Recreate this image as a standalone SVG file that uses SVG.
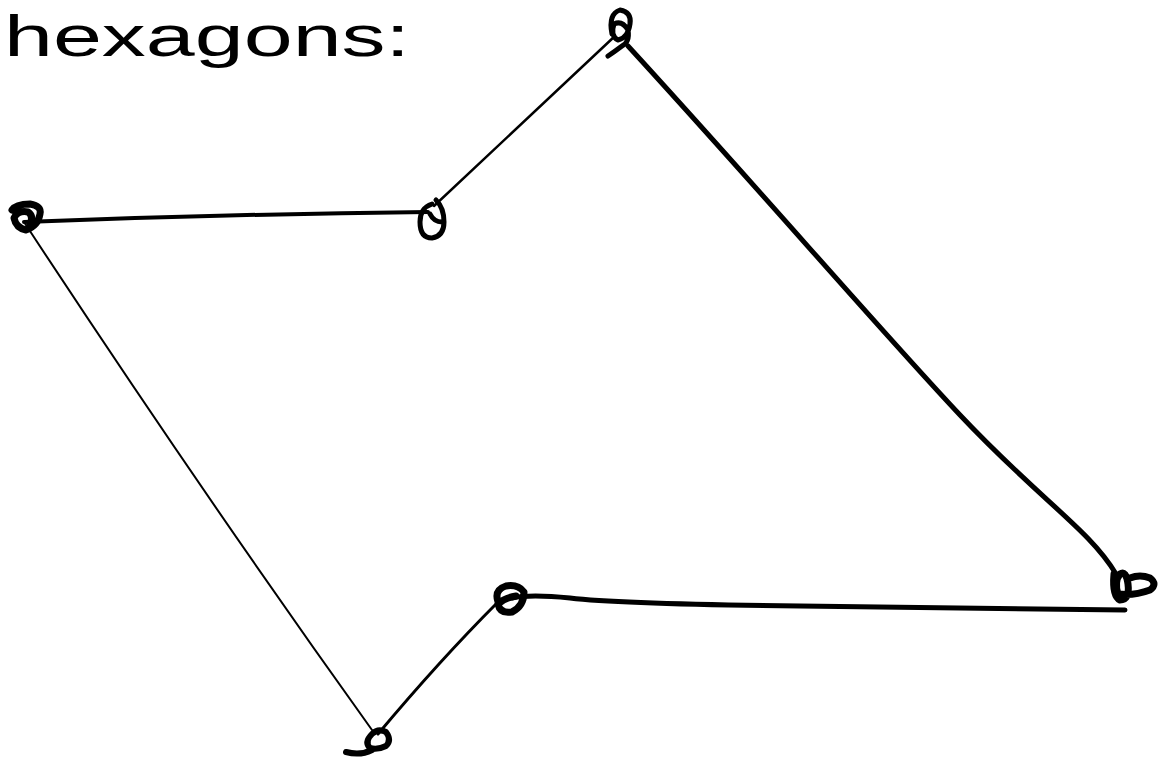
<svg xmlns="http://www.w3.org/2000/svg" width="1167" height="765" viewBox="0 0 1167 765">
<style>
.ink{fill:none;stroke:#000;stroke-linecap:round;stroke-linejoin:round}
.label{font-family:"Liberation Sans",Arial,sans-serif;font-size:58px;fill:#000}
</style>
<rect width="1167" height="765" fill="#fff"/>
<text class="label" x="4" y="56" textLength="406" lengthAdjust="spacingAndGlyphs">hexagons:</text>
<g id="edges">
<path class="ink" stroke-width="4" d="M24 222 Q 230 214 428 212"/>
<path class="ink" stroke-width="2.5" d="M434 206 L 615 36"/>
<path class="ink" stroke-width="5" d="M628 46 C 760 190 880 330 960 415 C 1040 500 1090 530 1116 574"/>
<path class="ink" stroke-width="5" d="M1125 610 L 800 606 Q 620 604 570 598 Q 530 594 512 598"/>
<path class="ink" stroke-width="3" d="M498 602 Q 440 660 378 734"/>
<path class="ink" stroke-width="2" d="M24 222 Q 200 490 372 730"/>
</g>
<g id="vertex-top">
<path class="ink" stroke-width="5" d="M612 34 Q 608 14 620 10 Q 632 12 630 24 Q 628 38 618 40 Q 610 36 614 24 Q 622 20 628 30 Q 630 42 622 46 Q 614 52 608 56"/>
</g>
<g id="vertex-left">
<path class="ink" stroke-width="7" d="M12 210 Q 16 204 30 204 Q 42 206 40 214 Q 38 226 26 230 Q 16 228 14 218 Q 18 210 28 212 Q 34 216 30 224"/>
</g>
<g id="vertex-mid-upper">
<path class="ink" stroke-width="5" d="M432 204 Q 420 208 420 222 Q 420 238 432 238 Q 444 236 444 222 Q 444 208 436 200 M430 214 Q 434 222 442 222"/>
</g>
<g id="vertex-right">
<path class="ink" stroke-width="7" d="M1114 574 Q 1112 596 1120 600 Q 1130 600 1128 584 Q 1126 570 1120 574 Q 1114 582 1118 594 Q 1134 596 1150 590 Q 1158 584 1150 578 Q 1140 574 1130 578"/>
</g>
<g id="vertex-mid-lower">
<path class="ink" stroke-width="7" d="M498 602 Q 494 590 506 586 Q 518 584 524 592 Q 524 606 512 612 Q 500 614 498 604 Q 504 598 516 596"/>
</g>
<g id="vertex-bottom">
<path class="ink" stroke-width="6" d="M372 734 Q 378 728 386 732 Q 392 740 386 746 Q 378 750 370 748 Q 364 742 372 734 M346 752 Q 360 756 372 750"/>
</g>
</svg>
